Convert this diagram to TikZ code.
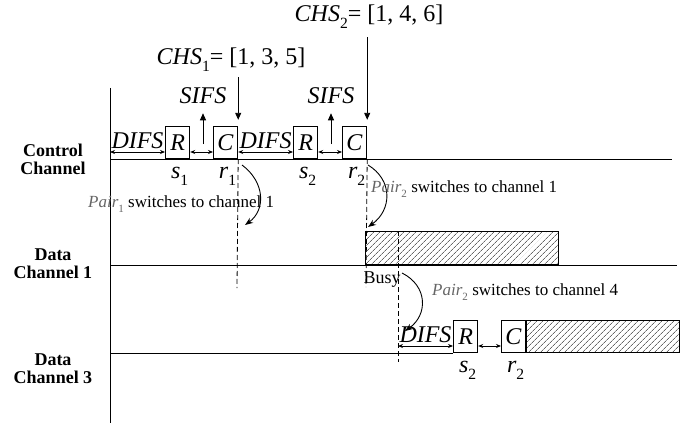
\documentclass[tikz,border=0pt]{standalone}
\usepackage{graphicx}
\usepackage{fontspec}
\setmainfont{Liberation Serif}
\usepackage{xcolor}
\usetikzlibrary{arrows.meta,positioning,calc,patterns.meta}

\newcommand{\lowidx}[1]{\raisebox{-0.3em}{\scalebox{0.65}{#1}}}

\begin{document}
\begin{tikzpicture}[
    x=1pt, y=-1pt,
    big/.style={font=\fontsize{24}{26}\selectfont, inner sep=0pt},
    pkt/.style={rectangle, draw, line width=1.2pt, minimum width=24pt, minimum height=32pt, inner sep=0pt, font=\fontsize{24}{26}\selectfont, anchor=south west},
    chan/.style={font=\fontsize{18}{18}\selectfont\bfseries, align=center},
    busy/.style={rectangle, draw, line width=1.2pt, inner sep=0pt, anchor=south west, pattern={Lines[angle=45,distance=4pt,line width=0.7pt]}, pattern color=gray!80!black},
    gap/.style={{Stealth[length=5pt,width=4pt]}-{Stealth[length=5pt,width=4pt]}, line width=0.8pt},
    arrow/.style={-{Triangle[length=7pt,width=6pt]}, line width=0.9pt},
    sw/.style={-{Stealth[length=8pt,width=6pt]}, line width=0.9pt},
    vline/.style={line width=0.8pt, dash pattern=on 5pt off 3pt},
    note/.style={font=\fontsize{17}{18}\selectfont, inner sep=0pt, anchor=base west}
]
    \useasboundingbox (0,0) rectangle (687,425);

    % channels
    \node [chan] (ctrl) at (53,159) {Control\\Channel};
    \node [chan] (dch1) at (53,264) {Data\\Channel 1};
    \node [chan] (dch3) at (53,369) {Data\\Channel 3};

    \draw [line width=1pt] (110,88) -- (110,423);
    \draw [line width=1pt] (110,159) -- (672,159);
    \draw [line width=1pt] (110,265) -- (677,265);
    \draw [line width=1pt] (110,353) -- (453,353);

    % control channel handshakes
    \node [pkt] (R1) at (165,159) {\textit{R}};
    \node [pkt] (C1) at (213,159) {\textit{C}};
    \node [pkt] (R2) at (293,159) {\textit{R}};
    \node [pkt] (C2) at (342,159) {\textit{C}};

    \node [big, anchor=base] (s1) at ($(R1.south)+(2,19)$) {\textit{s}\lowidx{1}};
    \node [big, anchor=base] (r1) at ($(C1.south)+(2,19)$) {\textit{r}\lowidx{1}};
    \node [big, anchor=base] (s2) at ($(R2.south)+(2,19)$) {\textit{s}\lowidx{2}};
    \node [big, anchor=base] (r2) at ($(C2.south)+(2,19)$) {\textit{r}\lowidx{2}};

    \coordinate (a1) at (110,152);
    \draw [gap] (a1) -- ([yshift=7pt]R1.south west) node [midway, big, above=3pt] (d1) {\textit{DIFS}};
    \draw [gap] ([yshift=7pt]R1.south east) -- ([yshift=7pt]C1.south west);
    \draw [gap] ([yshift=7pt]C1.south east) -- ([yshift=7pt]R2.south west) node [midway, big, above=3pt] (d2) {\textit{DIFS}};
    \draw [gap] ([yshift=7pt]R2.south east) -- ([yshift=7pt]C2.south west);

    \node [big] (sifs1) at (203,96) {\textit{SIFS}};
    \node [big] (sifs2) at (331,96) {\textit{SIFS}};
    \coordinate (u1) at (203,144);
    \coordinate (u2) at (331,144);
    \draw [arrow, shorten >=9pt] (u1) -- (sifs1.south);
    \draw [arrow, shorten >=9pt] (u2) -- (sifs2.south);

    \node [big] (chs1) at (231,60) {\textit{CHS}\lowidx{1}= [1, 3, 5]};
    \node [big] (chs2) at (369,17) {\textit{CHS}\lowidx{2}= [1, 4, 6]};
    \draw [arrow, shorten <=5pt, shorten >=6pt] (chs1.south -| C1.east) -- (C1.north east);
    \draw [arrow, shorten <=8pt, shorten >=6pt] (chs2.south -| C2.east) -- (C2.north east);

    % data channels
    \node [busy, minimum width=193pt, minimum height=33pt] (busy1) at (365,265) {};
    \node [font=\fontsize{18}{18}\selectfont, inner sep=0pt] (busytxt) at (382,280) {Busy};

    \node [pkt] (R3) at (453,353) {\textit{R}};
    \node [pkt] (C3) at (501,353) {\textit{C}};
    \node [busy, minimum width=153pt, minimum height=32pt] (busy3) at (C3.south east) {};
    \node [big, anchor=base] (s3) at ($(R3.south)+(2,19)$) {\textit{s}\lowidx{2}};
    \node [big, anchor=base] (r3) at ($(C3.south)+(2,19)$) {\textit{r}\lowidx{2}};

    \coordinate (b3) at (398,346);
    \draw [gap] (b3) -- ([yshift=7pt]R3.south west) node [midway, big, above=3pt] (d3) {\textit{DIFS}};
    \draw [gap] ([yshift=7pt]R3.south east) -- ([yshift=7pt]C3.south west);

    % switch times
    \coordinate (e1) at (237,288);
    \coordinate (e2) at (366,287);
    \coordinate (e3) at (398,362);
    \draw [vline] (C1.south east) -- (e1);
    \draw [vline] (C2.south east) -- (e2);
    \draw [vline] (e3 |- busy1.north) -- (e3);

    \coordinate (p1s) at (242,165);
    \coordinate (p1e) at (245,225);
    \coordinate (p2s) at (368,165);
    \coordinate (p2e) at (368,227);
    \coordinate (p3s) at (402,273);
    \coordinate (p3e) at (405,331);
    \draw [sw] (p1s) .. controls (265,182) and (266,210) .. (p1e);
    \draw [sw] (p2s) .. controls (393,180) and (392,210) .. (p2e);
    \draw [sw] (p3s) .. controls (428,286) and (428,315) .. (p3e);

    \node [note] (n1) at (88,207) {\textcolor{black!60}{\textit{Pair}\lowidx{1}} switches to channel 1};
    \node [note] (n2) at (371,192) {\textcolor{black!60}{\textit{Pair}\lowidx{2}} switches to channel 1};
    \node [note] (n3) at (432,295) {\textcolor{black!60}{\textit{Pair}\lowidx{2}} switches to channel 4};
\end{tikzpicture}
\end{document}
